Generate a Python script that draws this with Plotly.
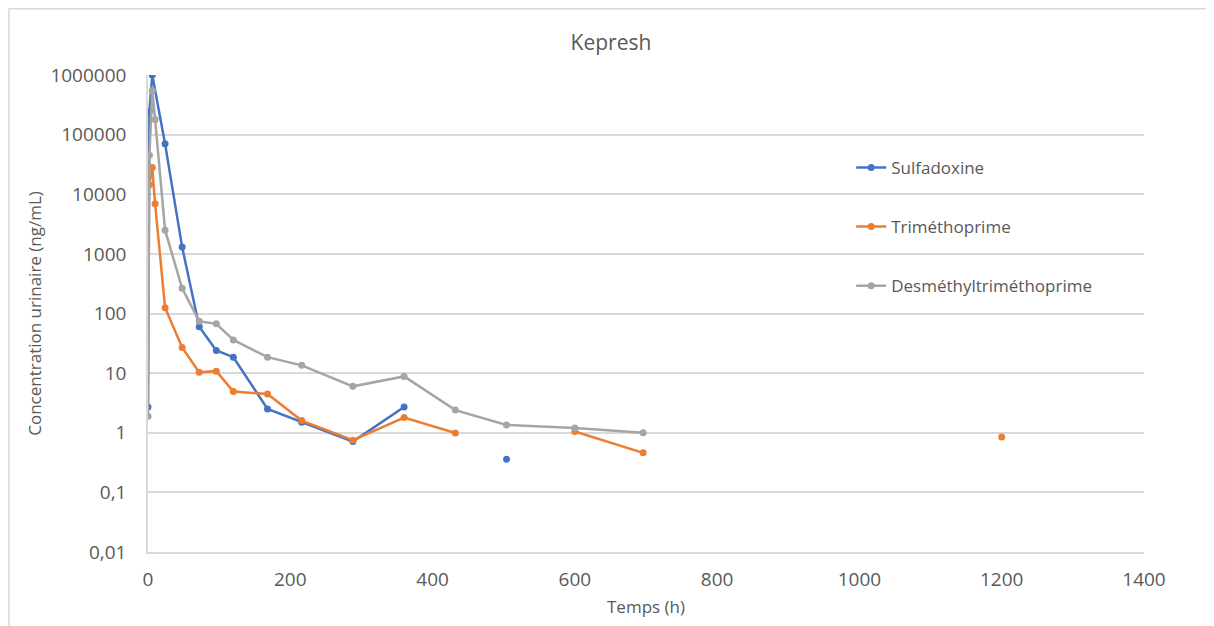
import plotly.graph_objects as go

# sampling times (h) and urinary concentrations (ng/mL); None = no sample / gap
t_sulfa = [0, 2, 6, 24, 48, 72, 96, 120, 168, 216, 288, 360, 432, 504]
c_sulfa = [2.7, 245000, 1000000, 70000, 1300, 60, 24, 18.5, 2.5, 1.5, 0.71, 2.7, None, 0.36]

t_tmp = [2, 6, 10, 24, 48, 72, 96, 120, 168, 216, 288, 360, 432, 504, 600, 696, 900, 1200]
c_tmp = [14500, 28000, 6900, 125, 27, 10.3, 10.8, 4.9, 4.45, 1.6, 0.75, 1.8, 0.99, None,
         1.05, 0.46, None, 0.85]

t_dtmp = [0, 2, 6, 10, 24, 48, 72, 96, 120, 168, 216, 288, 360, 432, 504, 600, 696]
c_dtmp = [1.9, 45000, 550000, 180000, 2500, 265, 74, 67, 36, 18.5, 13.5, 6.0, 8.8, 2.4,
          1.35, 1.2, 1.0]

y_ticks = [0.01, 0.1, 1, 10, 100, 1000, 10000, 100000, 1000000]
y_labels = ['0,01', '0,1', '1', '10', '100', '1000', '10000', '100000', '1000000']
x_ticks = [0, 200, 400, 600, 800, 1000, 1200, 1400]

FONT = 'Open Sans'
TXT = '#595959'
GRID = '#D9D9D9'

series = [
    ('Sulfadoxine', t_sulfa, c_sulfa, '#4472C4'),
    ('Triméthoprime', t_tmp, c_tmp, '#ED7D31'),
    ('Desméthyltriméthoprime', t_dtmp, c_dtmp, '#A5A5A5'),
]

fig = go.Figure()
for name, t, c, col in series:
    fig.add_trace(go.Scatter(
        x=t, y=c, name=name, mode='lines+markers', legendgroup=name,
        line=dict(color=col, width=2.5),
        marker=dict(color=col, size=7),
    ))

# page body adds 8px, so the figure is 8px smaller than the window
fig.update_layout(
    width=1206, height=618,
    paper_bgcolor='white', plot_bgcolor='white',
    margin={'l': 140, 'r': 70, 't': 67, 'b': 74},
    font=dict(family=FONT, color=TXT, size=17),
    title=dict(text='Kepresh', x=0.5, xref='container', xanchor='center',
               y=0.944, yref='container', yanchor='middle',
               font=dict(size=21, color=TXT, family=FONT)),
    xaxis=dict(range=[0, 1400], tickvals=x_ticks, showgrid=False, zeroline=False,
               showline=True, linecolor=GRID, linewidth=1.5, ticks='',
               automargin=False,
               ticklabelstandoff=9, tickfont=dict(size=19, color=TXT),
               title=dict(text='Temps (h)', font=dict(size=17, color=TXT), standoff=11)),
    yaxis=dict(type='log', range=[-2, 6], tickvals=y_ticks, ticktext=y_labels,
               showgrid=True, gridcolor=GRID, gridwidth=1.5, zeroline=False,
               showline=True, linecolor=GRID, linewidth=1.5, ticks='',
               automargin=False,
               ticklabelstandoff=16, tickfont=dict(size=19, color=TXT),
               title=dict(text='Concentration urinaire (ng/mL)',
                          font=dict(size=17, color=TXT), standoff=4)),
    legend=dict(x=0.706, y=0.843, xanchor='left', yanchor='top',
                bgcolor='rgba(0,0,0,0)', font=dict(size=17, color=TXT),
                tracegroupgap=34, itemwidth=30),
    showlegend=True,
    shapes=[
        # chart frame (left and top edges visible)
        dict(type='line', xref='paper', yref='paper', x0=-0.14, x1=1.07,
             y0=1.139, y1=1.139, line=dict(color=GRID, width=1.5)),
        dict(type='line', xref='paper', yref='paper', x0=-0.1396, x1=-0.1396,
             y0=-0.16, y1=1.139, line=dict(color=GRID, width=1.5)),
    ],
)

fig.write_html('out.html')
